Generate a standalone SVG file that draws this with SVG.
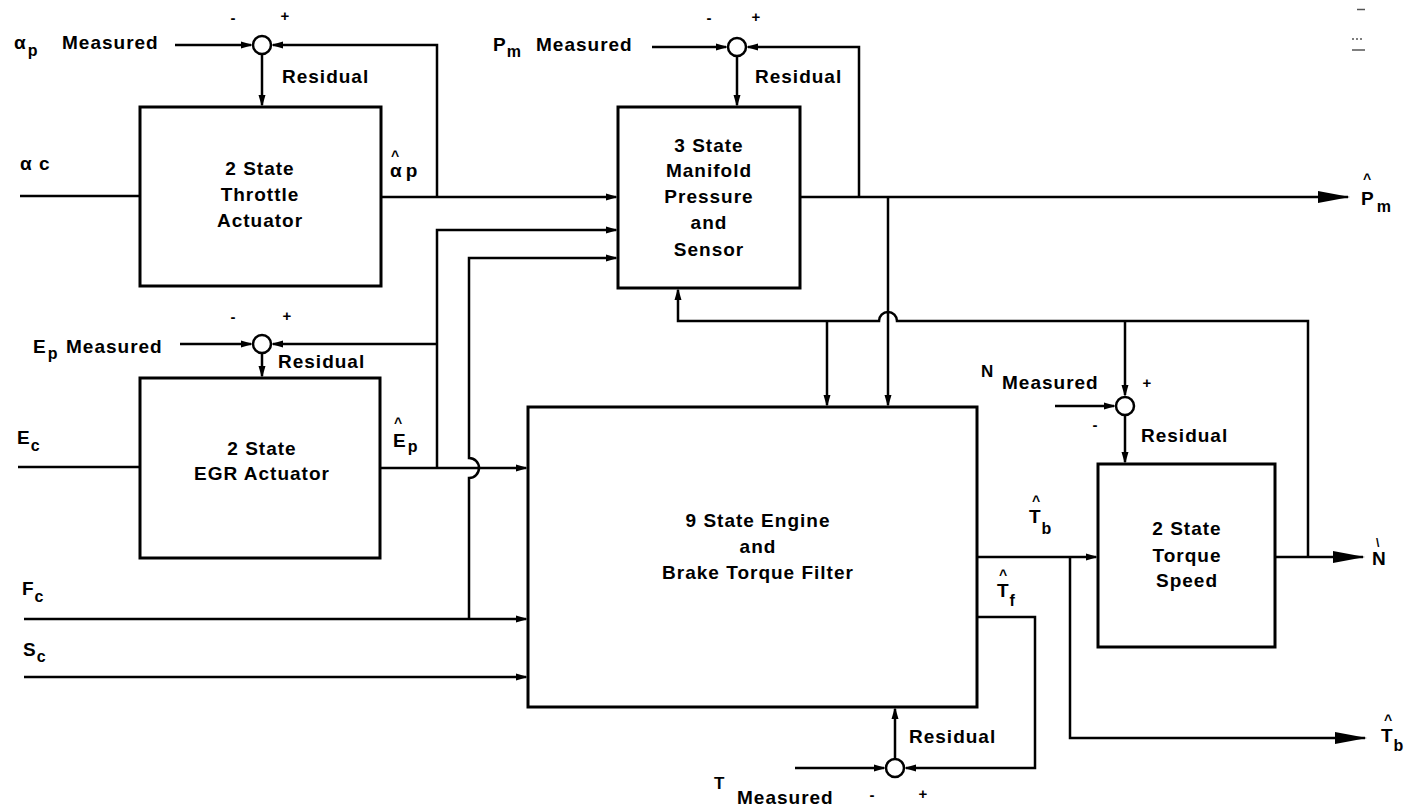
<svg xmlns="http://www.w3.org/2000/svg" width="1410" height="809" viewBox="0 0 1410 809">
<style>
.t{font-family:"Liberation Sans",Arial,sans-serif;font-weight:bold;font-size:19px;letter-spacing:1px;fill:#000}
.c{text-anchor:middle}
.sub{font-size:16px}
.hat{font-family:"Liberation Sans",Arial,sans-serif;font-weight:bold;font-size:14px;fill:#000}
.sign{font-family:"Liberation Sans",Arial,sans-serif;font-weight:bold;font-size:15px;fill:#000;text-anchor:middle}
.box{fill:#fff;stroke:#000;stroke-width:3}
.sum{fill:#fff;stroke:#000;stroke-width:2.5}
.ln{fill:none;stroke:#000;stroke-width:2.5}
.a{marker-end:url(#arr)}
.A{marker-end:url(#big)}
.mark{stroke:#555;stroke-width:1.5}
</style>
<defs>
<marker id="arr" markerUnits="userSpaceOnUse" markerWidth="12" markerHeight="8" refX="10" refY="4" orient="auto">
<path d="M0,0.5 L12,4 L0,7.5 z" fill="#000"/>
</marker>
<marker id="big" markerUnits="userSpaceOnUse" markerWidth="32" markerHeight="13" refX="30" refY="6.5" orient="auto">
<path d="M0,0.5 L32,6.5 L0,12.5 z" fill="#000"/>
</marker>
</defs>
<rect width="1410" height="809" fill="#fff"/>

<g id="connectors">
<path class="ln a" d="M175,45 H251"/>
<path class="ln a" d="M437,197 V45 H273"/>
<path class="ln a" d="M262,54 V105"/>
<path class="ln" d="M20,196 H140"/>
<path class="ln a" d="M381,197 H616"/>
<path class="ln a" d="M652,47 H726"/>
<path class="ln a" d="M859,197 V47 H748"/>
<path class="ln a" d="M737,56 V105"/>
<path class="ln A" d="M800,197 H1348"/>
<path class="ln a" d="M888,197 V405"/>
<path class="ln a" d="M180,344 H251"/>
<path class="ln a" d="M437,468 V230 H616"/>
<path class="ln a" d="M437,344 H273"/>
<path class="ln a" d="M262,353 V376"/>
<path class="ln" d="M18,467 H140"/>
<path class="ln a" d="M380,468 H526"/>
<path class="ln a" d="M469,619 V478 A10,10 0 0 0 469,458 V258 H616"/>
<path class="ln a" d="M24,619 H526"/>
<path class="ln a" d="M24,677 H526"/>
<path class="ln a" d="M1308,557 V321 H897 A9,9 0 0 0 879,321 H678 V290"/>
<path class="ln a" d="M827,321 V405"/>
<path class="ln a" d="M1125,321 V395"/>
<path class="ln a" d="M1055,406 H1114"/>
<path class="ln a" d="M1125,415 V462"/>
<path class="ln A" d="M1275,557 H1363"/>
<path class="ln a" d="M977,557 H1096"/>
<path class="ln A" d="M1070,557 V738 H1365"/>
<path class="ln a" d="M977,617 H1035 V768 H906"/>
<path class="ln a" d="M795,768 H884"/>
<path class="ln a" d="M895,759 V709"/>
</g>

<g id="sum-throttle"><circle class="sum" cx="262" cy="45" r="9"/></g>
<g id="sum-manifold"><circle class="sum" cx="737" cy="47" r="9"/></g>
<g id="sum-egr"><circle class="sum" cx="262" cy="344" r="9"/></g>
<g id="sum-speed"><circle class="sum" cx="1125" cy="406" r="9"/></g>
<g id="sum-torque"><circle class="sum" cx="895" cy="768" r="9"/></g>

<g id="throttle">
<rect class="box" x="140" y="107" width="241" height="179"/>
<text class="t c" x="260" y="175">2 State</text>
<text class="t c" x="260" y="201">Throttle</text>
<text class="t c" x="260" y="227">Actuator</text>
</g>
<g id="manifold">
<rect class="box" x="618" y="107" width="182" height="181"/>
<text class="t c" x="709" y="152">3 State</text>
<text class="t c" x="709" y="177">Manifold</text>
<text class="t c" x="709" y="203">Pressure</text>
<text class="t c" x="709" y="229">and</text>
<text class="t c" x="709" y="256">Sensor</text>
</g>
<g id="egr">
<rect class="box" x="140" y="378" width="240" height="180"/>
<text class="t c" x="262" y="455">2 State</text>
<text class="t c" x="262" y="480">EGR Actuator</text>
</g>
<g id="engine">
<rect class="box" x="528" y="407" width="449" height="300"/>
<text class="t c" x="758" y="527">9 State Engine</text>
<text class="t c" x="758" y="553">and</text>
<text class="t c" x="758" y="579">Brake Torque Filter</text>
</g>
<g id="torque-speed">
<rect class="box" x="1098" y="464" width="177" height="183"/>
<text class="t c" x="1187" y="535">2 State</text>
<text class="t c" x="1187" y="562">Torque</text>
<text class="t c" x="1187" y="587">Speed</text>
</g>

<g id="labels">
<text class="t" x="14" y="49">α<tspan class="sub" dx="1" dy="7">p</tspan></text>
<text class="t" x="62" y="49">Measured</text>
<text class="sign" x="233" y="23">-</text>
<text class="sign" x="285" y="21">+</text>
<text class="t" x="282" y="83">Residual</text>
<text class="t" x="20" y="170">α c</text>
<text class="hat" x="391" y="161">^</text>
<text class="t" x="390" y="177">α<tspan dx="3">p</tspan></text>

<text class="t" x="493" y="51">P<tspan class="sub" dx="0" dy="6">m</tspan></text>
<text class="t" x="536" y="51">Measured</text>
<text class="sign" x="709" y="23">-</text>
<text class="sign" x="756" y="22">+</text>
<text class="t" x="755" y="83">Residual</text>
<text class="hat" x="1363" y="184">^</text>
<text class="t" x="1361" y="205">P<tspan class="sub" dx="2" dy="7">m</tspan></text>

<text class="t" x="33" y="353">E<tspan class="sub" dx="1" dy="6">p</tspan></text>
<text class="t" x="66" y="353">Measured</text>
<text class="sign" x="233" y="322">-</text>
<text class="sign" x="287" y="321">+</text>
<text class="t" x="278" y="368">Residual</text>
<text class="t" x="17" y="444">E<tspan class="sub" dx="0" dy="7">c</tspan></text>
<text class="hat" x="394" y="428">^</text>
<text class="t" x="393" y="447">E<tspan class="sub" dx="1" dy="5">p</tspan></text>
<text class="t" x="22" y="595">F<tspan class="sub" dx="0" dy="7">c</tspan></text>
<text class="t" x="23" y="656">S<tspan class="sub" dx="0" dy="6">c</tspan></text>

<text class="hat" x="1032" y="506">^</text>
<text class="t" x="1029" y="523">T<tspan class="sub" dx="0" dy="11">b</tspan></text>
<text class="hat" x="999" y="580">^</text>
<text class="t" x="997" y="597">T<tspan class="sub" dx="0" dy="9">f</tspan></text>
<text class="t" x="909" y="743">Residual</text>
<text class="t" x="714" y="789" style="font-size:17px">T</text>
<text class="t" x="737" y="804">Measured</text>
<text class="sign" x="872" y="800">-</text>
<text class="sign" x="923" y="799">+</text>

<text class="t" x="981" y="377" style="font-size:17px">N</text>
<text class="t" x="1002" y="389">Measured</text>
<text class="sign" x="1147" y="388">+</text>
<text class="sign" x="1095" y="430">-</text>
<text class="t" x="1141" y="442">Residual</text>
<text class="hat" x="1376" y="547" style="font-size:12px">\</text>
<text class="t" x="1372" y="565">N</text>
<text class="hat" x="1384" y="725">^</text>
<text class="t" x="1381" y="742">T<tspan class="sub" dx="0" dy="9">b</tspan></text>
</g>

<g id="scan-marks">
<line class="mark" x1="1357" y1="9.5" x2="1365" y2="9.5"/>
<line class="mark" x1="1352" y1="39" x2="1364" y2="39" stroke-dasharray="2,2"/>
<line class="mark" x1="1352" y1="50" x2="1365" y2="50"/>
</g>
</svg>
